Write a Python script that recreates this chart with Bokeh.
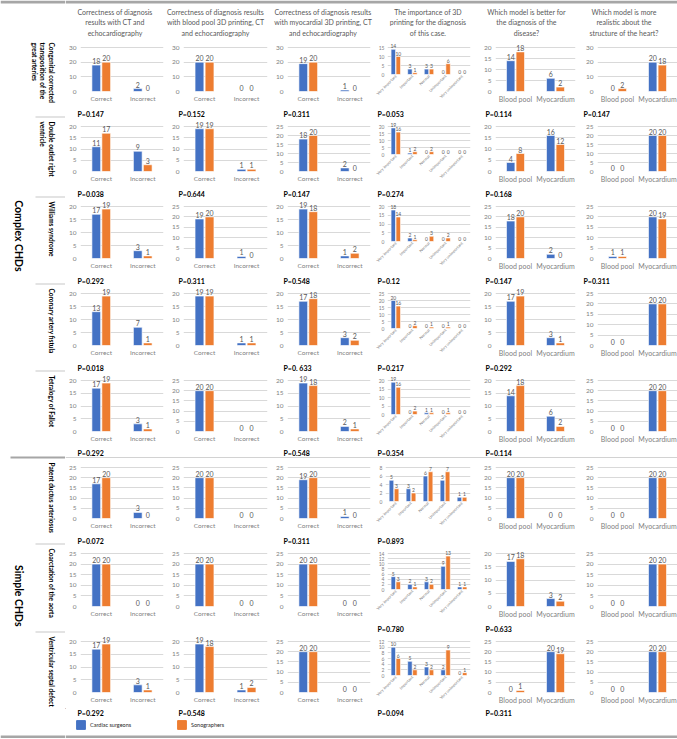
import math
from bokeh.plotting import figure
from bokeh.models import (ColumnDataSource, FactorRange, Range1d, FixedTicker,
                          LabelSet, Legend, LegendItem)
from bokeh.layouts import row, column
from bokeh.transform import dodge
from bokeh.core.properties import value
from bokeh.embed import file_html
from bokeh.resources import INLINE

# ---------------- data ----------------
diseases = ["Congenital corrected\ntransposition of the\ngreat arteries",
            "Double outlet right\nventricle",
            "Williams syndrome",
            "Coronary artery fistula",
            "Tetralogy of Fallot",
            "Patent ductus arteriosus",
            "Coarctation of the aorta",
            "Ventricular septal defect"]
groups = ["Complex CHDs", "Simple CHDs"]
group_rows = [5, 3]

headers = ["Correctness of diagnosis\nresults with CT and\nechocardiography",
           "Correctness of diagnosis results\nwith blood pool 3D printing, CT\nand echocardiography",
           "Correctness of diagnosis results\nwith myocardial 3D printing, CT\nand echocardiography",
           "The importance of 3D\nprinting for the diagnosis\nof this case.",
           "Which model is better for\nthe diagnosis of the\ndisease?",
           "Which model is more\nrealistic about the\nstructure of the heart?"]

series_names = ["Cardiac surgeons", "Sonographers"]

cat_correct = ["Correct", "Incorrect"]
cat_importance = ["Very important", "Important", "Normal", "Unimportant", "Very unimportant"]
cat_model = ["Blood pool", "Myocardium"]

ct_surgeons = [[18, 2], [11, 9], [17, 3], [13, 7], [17, 3], [17, 3], [20, 0], [17, 3]]
ct_sonographers = [[20, 0], [17, 3], [19, 1], [19, 1], [19, 1], [20, 0], [20, 0], [19, 1]]
bp_surgeons = [[20, 0], [19, 1], [19, 1], [19, 1], [20, 0], [20, 0], [20, 0], [19, 1]]
bp_sonographers = [[20, 0], [19, 1], [20, 0], [19, 1], [20, 0], [20, 0], [20, 0], [18, 2]]
myo_surgeons = [[19, 1], [18, 2], [19, 1], [17, 3], [19, 2], [19, 1], [20, 0], [20, 0]]
myo_sonographers = [[20, 0], [20, 0], [18, 2], [18, 2], [18, 1], [20, 0], [20, 0], [20, 0]]
imp_surgeons = [[14, 3, 3, 0, 0], [19, 1, 0, 0, 0], [18, 2, 0, 0, 0], [20, 0, 0, 0, 0],
                [19, 0, 1, 0, 0], [5, 3, 6, 5, 1], [5, 2, 3, 9, 1], [10, 5, 3, 2, 0]]
imp_sonographers = [[10, 1, 3, 6, 0], [16, 2, 2, 0, 0], [14, 1, 3, 2, 0], [16, 2, 1, 1, 0],
                    [16, 2, 1, 1, 0], [3, 2, 7, 7, 1], [3, 1, 2, 13, 1], [6, 2, 2, 9, 1]]
better_surgeons = [[14, 6], [4, 16], [18, 2], [17, 3], [14, 6], [20, 0], [17, 3], [0, 20]]
better_sonographers = [[18, 2], [8, 12], [20, 0], [19, 1], [18, 2], [20, 0], [18, 2], [1, 19]]
real_surgeons = [[0, 20], [0, 20], [1, 20], [0, 20], [0, 20], [0, 20], [0, 20], [0, 20]]
real_sonographers = [[2, 18], [0, 20], [1, 19], [0, 20], [0, 20], [0, 20], [0, 20], [0, 20]]

y_max = [[30, 30, 30, 15, 20, 30],
         [20, 20, 25, 20, 20, 25],
         [20, 25, 20, 20, 25, 25],
         [20, 20, 20, 25, 20, 25],
         [20, 25, 20, 20, 20, 25],
         [25, 25, 25, 8, 25, 25],
         [25, 25, 25, 14, 20, 25],
         [20, 20, 25, 12, 25, 25]]

p_values = [["P=0.147", "P=0.152", "P=0.311", "P=0.053", "P=0.114", "P=0.147"],
            ["P=0.038", "P=0.644", "P=0.147", "P=0.274", "P=0.168", None],
            ["P=0.292", "P=0.311", "P=0.548", "P=0.12", "P=0.147", "P=0.311"],
            ["P=0.018", None, "P=0. 633", "P=0.217", "P=0.292", None],
            ["P=0.292", None, "P=0.548", "P=0.354", "P=0.114", None],
            ["P=0.072", None, "P=0.311", "P=0.893", None, None],
            [None, None, None, "P=0.780", "P=0.633", None],
            ["P=0.292", "P=0.548", None, "P=0.094", "P=0.311", None]]

cols_data = [(cat_correct, ct_surgeons, ct_sonographers),
             (cat_correct, bp_surgeons, bp_sonographers),
             (cat_correct, myo_surgeons, myo_sonographers),
             (cat_importance, imp_surgeons, imp_sonographers),
             (cat_model, better_surgeons, better_sonographers),
             (cat_model, real_surgeons, real_sonographers)]

# ---------------- style ----------------
FONT = "Lato"
BLUE = "#4472C4"
ORANGE = "#ED7D31"
TICK_GRAY = "#7F7F7F"
LBL_GRAY = "#595959"
GRID = "#D9D9D9"
SEP_LIGHT = "#C8C8C8"
SEP_DARK = "#A6A6A6"

LEFT_W = 65
COL_W = [103, 104, 103, 103, 102, 97]
HEADER_DX = [-2, -5, -1, 1, -3, -5]
HEADER_H = 35
ROW_H = [78, 79, 86, 86, 85, 85, 87, 85]
P_H = 9
SEP_H = [1, 1, 1, 1, 2, 1, 1]
SEP_C = [SEP_LIGHT, SEP_LIGHT, SEP_LIGHT, SEP_LIGHT, SEP_DARK, SEP_LIGHT, SEP_LIGHT]
LEGEND_H = 18
BAR_H = 3
MB_LEFT = [13, 12, 13, 10, 17, 17]
MB_RIGHT = [5, 5, 5, 8, 5, 0]
MB_TOP = 1
MB_BOTTOM = 16
MB_BOTTOM_IMP = 33
TOP_GAP = 8
P_X = [12, 10, 11, 2, 7, 3]
HW = sum(COL_W)
TOTAL_W = LEFT_W + HW


def blank_fig(w, h, xr, yr):
    f = figure(width=w, height=h, x_range=xr, y_range=yr, output_backend="svg",
               toolbar_location=None, title=None, outline_line_color=None,
               x_axis_type=None, y_axis_type=None, min_border=0)
    f.frame_align = False
    f.grid.visible = False
    return f


def make_cell(ci, ri):
    cats, sa, sb = cols_data[ci]
    imp = ci == 3
    a, b = sa[ri], sb[ri]
    ym = y_max[ri][ci]
    step = 10 if ym >= 30 else (5 if ym >= 15 else 2)
    mbb = MB_BOTTOM_IMP if imp else MB_BOTTOM
    h = ROW_H[ri] - P_H
    fh = h - MB_TOP - mbb
    y_end = ym * fh / (fh - TOP_GAP)
    p = figure(width=COL_W[ci], height=h, x_range=FactorRange(factors=cats),
               y_range=Range1d(0, y_end), output_backend="svg", toolbar_location=None,
               title=None, outline_line_color=None,
               min_border_top=MB_TOP, min_border_bottom=mbb,
               min_border_left=MB_LEFT[ci], min_border_right=MB_RIGHT[ci])
    p.frame_align = False
    src = ColumnDataSource(dict(cat=cats, a=a, b=b,
                                la=[str(v) for v in a], lb=[str(v) for v in b]))
    off = 0.15 if imp else 0.12
    wd = 0.27 if imp else 0.21
    fs = "5px" if imp else "7px"
    for key, lk, o, col in [("a", "la", -off, BLUE), ("b", "lb", off, ORANGE)]:
        p.vbar(x=dodge("cat", o, range=p.x_range), top=key, width=wd, source=src,
               fill_color=col, line_color="white", line_width=0.6)
        p.add_layout(LabelSet(x=dodge("cat", o, range=p.x_range), y=key, text=lk, source=src,
                              text_align="center", text_baseline="bottom", y_offset=1,
                              text_font=value(FONT), text_font_size=value(fs),
                              text_color=LBL_GRAY))
    p.yaxis.ticker = FixedTicker(ticks=list(range(0, ym + 1, step)))
    for ax in (p.xaxis[0], p.yaxis[0]):
        ax.axis_label = None
        ax.axis_label_standoff = 0
        ax.axis_line_color = None
        ax.major_tick_line_color = None
        ax.minor_tick_line_color = None
        ax.major_tick_out = 0
        ax.major_tick_in = 0
        ax.major_label_text_font = FONT
        ax.major_label_text_color = TICK_GRAY
    p.yaxis.major_label_text_font_size = "5px" if imp else "6.5px"
    p.yaxis.major_label_standoff = 3 if imp else 4
    if imp:
        p.xaxis.major_label_text_font_size = "4px"
        p.xaxis.major_label_orientation = math.pi / 4
        p.xaxis.major_label_standoff = 1
    else:
        p.xaxis.major_label_text_font_size = "7px" if ci >= 4 else "6.5px"
        p.xaxis.major_label_standoff = 3
    p.xgrid.grid_line_color = None
    p.ygrid.grid_line_color = GRID
    return p


col_left = [sum(COL_W[:i]) for i in range(len(COL_W))]


def p_strip(ri, extra_h, sep_h, sep_c):
    h = P_H + extra_h
    f = blank_fig(HW, h, Range1d(0, HW), Range1d(h, 0))
    xs, ys, ts = [], [], []
    for ci, pv in enumerate(p_values[ri]):
        if pv:
            xs.append(col_left[ci] + P_X[ci])
            ys.append(P_H / 2)
            ts.append(pv)
    f.text(x=xs, y=ys, text=ts, text_align="left", text_baseline="middle",
           text_font=value(FONT), text_font_size="7px", text_font_style="bold",
           text_color="black")
    if sep_h:
        f.quad(left=[0], right=[HW], top=[h - sep_h], bottom=[h], fill_color=sep_c,
               line_color=None)
    return f


# header (top bar + column titles)
hh = BAR_H + HEADER_H
hf = blank_fig(HW, hh, Range1d(0, HW), Range1d(hh, 0))
hf.quad(left=[0], right=[HW], top=[0], bottom=[BAR_H], fill_color=SEP_DARK, line_color=None)
hx = [col_left[ci] + w / 2 + HEADER_DX[ci] for ci, w in enumerate(COL_W)]
hf.text(x=hx, y=[BAR_H + 4] * len(headers), text=headers, text_align="center",
        text_baseline="top", text_font=value(FONT), text_font_size="7px",
        text_color=LBL_GRAY, text_line_height=1.35)

right_children = [hf]
n = len(diseases)
for ri in range(n):
    right_children.append(row(*[make_cell(ci, ri) for ci in range(6)]))
    if ri < n - 1:
        right_children.append(p_strip(ri, SEP_H[ri], SEP_H[ri], SEP_C[ri]))

# last strip: P values + legend + bottom bar
lgf = p_strip(n - 1, LEGEND_H + BAR_H, BAR_H, SEP_DARK)
# legend proxies (kept outside the visible window)
r1 = lgf.vbar(x=[-1000], top=[-1000], width=1, fill_color=BLUE, line_color=BLUE)
r2 = lgf.vbar(x=[-1000], top=[-1000], width=1, fill_color=ORANGE, line_color=ORANGE)
leg = Legend(items=[LegendItem(label=series_names[0], renderers=[r1]),
                    LegendItem(label=series_names[1], renderers=[r2])],
             orientation="horizontal", location=(10, BAR_H + 5), glyph_width=11,
             glyph_height=11, label_standoff=4, label_width=86, label_height=11, spacing=0,
             padding=0, margin=0, border_line_color=None, background_fill_alpha=0,
             label_text_font=FONT, label_text_font_size="5.5px", label_text_color="#262626")
lgf.add_layout(leg)
right_children.append(lgf)

# left label column (also carries its part of bars and separators)
H_all = hh + sum(ROW_H) + sum(SEP_H) + LEGEND_H + BAR_H
lf = blank_fig(LEFT_W, H_all, Range1d(0, LEFT_W), Range1d(H_all, 0))
lf.quad(left=[0, 0], right=[LEFT_W, LEFT_W], top=[0, H_all - BAR_H],
        bottom=[BAR_H, H_all], fill_color=SEP_DARK, line_color=None)
row_top = []
y = hh
for ri, h in enumerate(ROW_H):
    row_top.append(y)
    y += h
    if ri < len(SEP_H):
        lf.quad(left=[10 if SEP_C[ri] == SEP_DARK else 35], right=[LEFT_W], top=[y],
                bottom=[y + SEP_H[ri]], fill_color=SEP_C[ri], line_color=None)
        y += SEP_H[ri]
rows_end = y
lf.text(x=[LEFT_W - 11] * n, y=[t + 4 for t in row_top], text=diseases,
        angle=-math.pi / 2, text_align="left", text_baseline="top",
        text_font=value(FONT), text_font_size="6.5px", text_font_style="bold",
        text_color="black", text_line_height=1.15)
g_start1 = row_top[group_rows[0]]
g_y = [hh + 0.47 * (g_start1 - hh), g_start1 + 0.53 * (rows_end - g_start1)]
lf.text(x=[18, 18], y=g_y, text=groups, angle=-math.pi / 2, text_align="center",
        text_baseline="middle", text_font=value(FONT), text_font_size="10.5px",
        text_font_style="bold", text_color="black")

layout = row(lf, column(*right_children))

open("out.html", "w").write(file_html(layout, INLINE))
